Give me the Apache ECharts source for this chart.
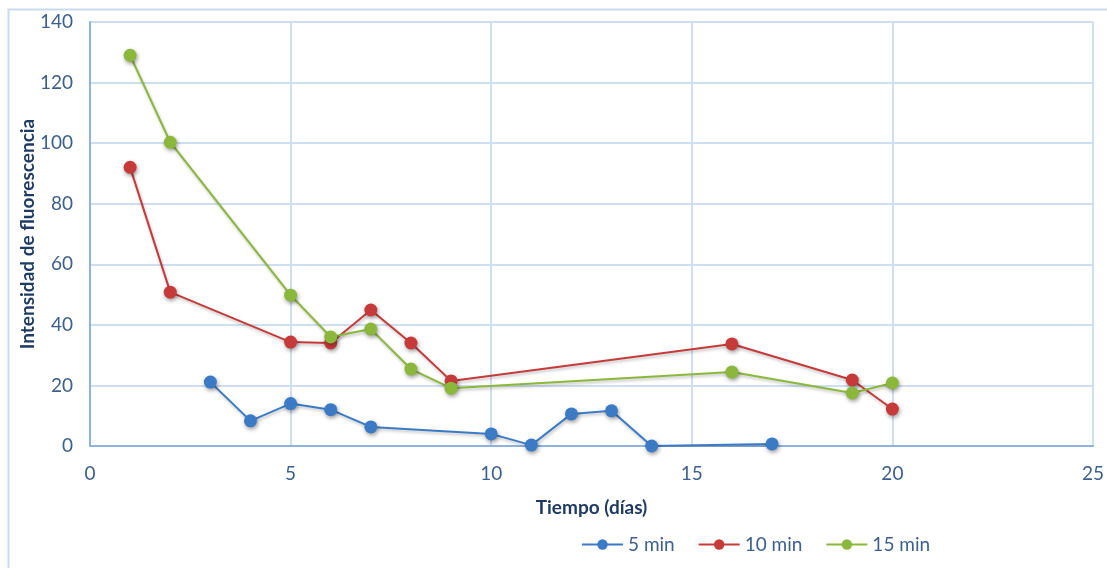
<!DOCTYPE html>
<html>
<head>
<meta charset="utf-8">
<script src="https://cdn.jsdelivr.net/npm/echarts@6/dist/echarts.min.js"></script>
<style>
  html, body { margin: 0; padding: 0; background: #fff; }
  #chart { width: 1107px; height: 568px; }
</style>
</head>
<body>
<div id="chart"></div>
<script>
// Fluorescence intensity over storage time, one series per treatment time
const seriesNames = ['5 min', '10 min', '15 min'];

const days5 = [3, 4, 5, 6, 7, 10, 11, 12, 13, 14, 17];
const values5 = [21.1, 8.3, 14.0, 12.0, 6.3, 4.0, 0.3, 10.6, 11.6, 0.0, 0.7];

const days10 = [1, 2, 5, 6, 7, 8, 9, 16, 19, 20];
const values10 = [92.0, 50.8, 34.3, 34.0, 44.9, 34.0, 21.5, 33.7, 21.8, 12.2];

const days15 = [1, 2, 5, 6, 7, 8, 9, 16, 19, 20];
const values15 = [129.0, 100.3, 49.8, 36.0, 38.6, 25.4, 19.1, 24.4, 17.5, 20.8];

const colors = ['#3b7bc6', '#c63a3a', '#8bb83b'];

const pair = (xs, ys) => xs.map((x, i) => [x, ys[i]]);

const fontFamily = 'Lato, "Open Sans", sans-serif';
const labelColor = '#3c5f8c';
const titleColor = '#1f3b63';

function lineSeries(name, xs, ys, color) {
  return {
    name: name,
    type: 'line',
    data: pair(xs, ys),
    symbol: 'circle',
    symbolSize: 13,
    lineStyle: {
      color: color, width: 2,
      shadowColor: 'rgba(0,0,0,0.25)', shadowBlur: 3, shadowOffsetY: 2, shadowOffsetX: 1
    },
    itemStyle: {
      color: color,
      shadowColor: 'rgba(0,0,0,0.4)', shadowBlur: 4, shadowOffsetY: 2, shadowOffsetX: 1
    },
    emphasis: { disabled: true },
    animation: false
  };
}

const chart = echarts.init(document.getElementById('chart'), null, { renderer: 'canvas' });
chart.setOption({
  backgroundColor: '#fff',
  textStyle: { fontFamily: fontFamily },
  graphic: [{
    type: 'rect',
    shape: { x: 8.5, y: 9.5, width: 1200, height: 700 },
    style: { fill: 'none', stroke: '#c9dbf0', lineWidth: 2 },
    silent: true, z: -1
  }],
  grid: { left: 90, right: 9, top: 22, bottom: 122, containLabel: false },
  legend: {
    data: seriesNames,
    top: 530,
    left: 576,
    itemWidth: 41,
    itemHeight: 13,
    itemGap: 23,
    textStyle: { color: labelColor, fontSize: 19, fontFamily: fontFamily },
    selectedMode: false
  },
  xAxis: {
    type: 'value',
    min: 0, max: 25, interval: 5,
    name: 'Tiempo (días)',
    nameLocation: 'middle',
    nameGap: 52,
    nameTextStyle: { color: titleColor, fontSize: 19, fontWeight: 'bold', fontFamily: fontFamily },
    axisLine: { show: true, lineStyle: { color: '#8eb3e0', width: 2 } },
    axisTick: { show: false },
    axisLabel: { color: labelColor, fontSize: 19, margin: 18, fontFamily: fontFamily },
    splitLine: { show: true, lineStyle: { color: '#cfdff2', width: 2 } }
  },
  yAxis: {
    type: 'value',
    min: 0, max: 140, interval: 20,
    name: 'Intensidad de fluorescencia',
    nameLocation: 'middle',
    nameGap: 53,
    nameMoveOverlap: false,
    nameTextStyle: { color: titleColor, fontSize: 19, fontWeight: 'bold', fontFamily: fontFamily },
    axisLine: { show: true, lineStyle: { color: '#8eb3e0', width: 2 } },
    axisTick: { show: false },
    axisLabel: { color: labelColor, fontSize: 19, margin: 17, fontFamily: fontFamily },
    splitLine: { show: true, lineStyle: { color: '#cfdff2', width: 2 } }
  },
  series: [
    lineSeries(seriesNames[0], days5, values5, colors[0]),
    lineSeries(seriesNames[1], days10, values10, colors[1]),
    lineSeries(seriesNames[2], days15, values15, colors[2])
  ]
});
</script>
</body>
</html>
